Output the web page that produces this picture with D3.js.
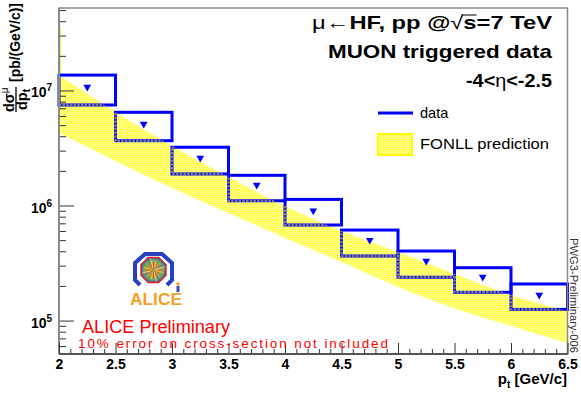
<!DOCTYPE html>
<html>
<head>
<meta charset="utf-8">
<script src="https://cdn.jsdelivr.net/npm/d3@7"></script>
<style>
body { margin: 0; background: #fff; }
svg { display: block; }
text { font-family: "Liberation Sans", Arial, Helvetica, sans-serif; }
</style>
</head>
<body>
<div id="chart"></div>
<script>
// bins of the measured spectrum
var binLo = [2, 2.5, 3, 3.5, 4, 4.5, 5, 5.5, 6];
var binHi = [2.5, 3, 3.5, 4, 4.5, 5, 5.5, 6, 6.5];
var dataVal = [1.07e7, 5.11e6, 2.59e6, 1.51e6, 9.0e5, 5.0e5, 3.29e5, 2.39e5, 1.67e5];
var systHi = [1.36e7, 6.46e6, 3.21e6, 1.83e6, 1.13e6, 6.12e5, 4.02e5, 2.88e5, 2.08e5];
var systLo = [7.48e6, 3.66e6, 1.88e6, 1.10e6, 6.77e5, 3.64e5, 2.38e5, 1.76e5, 1.25e5];

// FONLL band
var fonllPt = [2, 2.5, 3, 3.5, 4, 4.5, 5, 5.5, 6, 6.5];
var fonllHi = [1.36e7, 6.50e6, 3.29e6, 1.77e6, 9.90e5, 6.00e5, 3.94e5, 2.54e5, 1.67e5, 1.21e5];
var fonllLo = [4.27e6, 2.44e6, 1.42e6, 8.60e5, 5.22e5, 3.23e5, 1.96e5, 1.28e5, 8.96e4, 6.37e4];
var fonllEdgeTop = 3.56e7; // thin strip drawn on the axis at pt=2

// axis ticks
var xMajor = [2, 2.5, 3, 3.5, 4, 4.5, 5, 5.5, 6, 6.5];
var yMajor = [1e5, 1e6, 1e7];
var yExp = ["5", "6", "7"];

var width = 581, height = 395;

var x = d3.scaleLinear().domain([2, 6.5]).range([59, 567.5]);
var y = d3.scaleLog().domain([5.12e4, 5.21e7]).range([354, 8]);

var svg = d3.select("#chart").append("svg")
	.attr("width", width)
	.attr("height", height);

var defs = svg.append("defs");
var pat = defs.append("pattern")
	.attr("id", "dots")
	.attr("width", 2).attr("height", 2)
	.attr("patternUnits", "userSpaceOnUse");
pat.append("rect").attr("width", 2).attr("height", 2).attr("fill", "#ffff55");
pat.append("rect").attr("width", 1).attr("height", 1).attr("fill", "#ffffa8");

var fonll = fonllPt.map(function(p, i) { return {pt: p, lo: fonllLo[i], hi: fonllHi[i]}; });
var band = d3.area()
	.x(function(d) { return x(d.pt); })
	.y0(function(d) { return y(d.lo); })
	.y1(function(d) { return y(d.hi); })
	.curve(d3.curveMonotoneX);

defs.append("clipPath").attr("id", "bandclip")
	.append("path").attr("d", band(fonll));

// band
svg.append("path")
	.attr("d", band(fonll))
	.attr("fill", "url(#dots)");
svg.append("line")
	.attr("x1", x(2) + 1.2).attr("x2", x(2) + 1.2)
	.attr("y1", y(fonllEdgeTop)).attr("y2", y(fonllHi[0]))
	.attr("stroke", "#f0f040").attr("stroke-width", 1.5);

// data boxes
var bins = binLo.map(function(lo, i) {
	return {lo: lo, hi: binHi[i], v: dataVal[i], top: systHi[i], bot: systLo[i]};
});

svg.append("g").selectAll("rect")
	.data(bins)
	.enter()
	.append("rect")
	.attr("x", function(d) { return x(d.lo); })
	.attr("y", function(d) { return y(d.top); })
	.attr("width", function(d) { return x(d.hi) - x(d.lo); })
	.attr("height", function(d) { return y(d.bot) - y(d.top); })
	.attr("fill", "none")
	.attr("stroke", "#0000ff")
	.attr("stroke-width", 3);

// parts of the boxes seen through the band
svg.append("g").attr("clip-path", "url(#bandclip)").selectAll("rect")
	.data(bins)
	.enter()
	.append("rect")
	.attr("x", function(d) { return x(d.lo); })
	.attr("y", function(d) { return y(d.top); })
	.attr("width", function(d) { return x(d.hi) - x(d.lo); })
	.attr("height", function(d) { return y(d.bot) - y(d.top); })
	.attr("fill", "none")
	.attr("stroke", "#7c7c8c")
	.attr("stroke-width", 2.5)
	.attr("stroke-dasharray", "2.5,1.2");

// markers
var tri = d3.symbol().type(d3.symbolTriangle).size(26);
svg.append("g").selectAll("path")
	.data(bins)
	.enter()
	.append("path")
	.attr("d", tri)
	.attr("transform", function(d) {
		return "translate(" + x((d.lo + d.hi) / 2) + "," + y(d.v) + ") rotate(180)";
	})
	.attr("fill", "#0000ff");

// frame
svg.append("rect")
	.attr("x", 59).attr("y", 8)
	.attr("width", 567.5 - 59).attr("height", 354 - 8)
	.attr("fill", "none")
	.attr("stroke", "#8a8a8a")
	.attr("stroke-width", 1.5);

// y ticks (inside)
var yMinor = [];
[1e4, 1e5, 1e6, 1e7].forEach(function(dec) {
	for (var k = 2; k <= 9; k++) {
		var v = k * dec;
		if (v > y.domain()[0] && v < y.domain()[1]) yMinor.push(v);
	}
});

var yAxisMinor = d3.axisRight(y).tickValues(yMinor).tickSize(7).tickFormat("");
var yAxisMajor = d3.axisRight(y).tickValues(yMajor).tickSize(15).tickFormat("");
[yAxisMinor, yAxisMajor].forEach(function(ax) {
	var g = svg.append("g").attr("transform", "translate(59,0)").call(ax);
	g.select(".domain").remove();
	g.selectAll("line").attr("stroke", "#333");
});

svg.append("line")
	.attr("x1", 59).attr("x2", 59).attr("y1", 8).attr("y2", 354)
	.attr("stroke", "#8a8a8a").attr("stroke-width", 2);

// x ticks (inside)
var xMinor = d3.range(20, 66).map(function(i) { return i / 10; })
	.filter(function(v) { return Math.round(v * 10) % 5 != 0; });
var xAxisMinor = d3.axisTop(x).tickValues(xMinor).tickSize(5).tickFormat("");
var xAxisMajor = d3.axisTop(x).tickValues(xMajor).tickSize(11).tickFormat("");
[xAxisMinor, xAxisMajor].forEach(function(ax) {
	var g = svg.append("g").attr("transform", "translate(0,354)").call(ax);
	g.select(".domain").remove();
	g.selectAll("line").attr("stroke", "#333");
});
svg.append("line")
	.attr("x1", 59).attr("x2", 567.5).attr("y1", 354).attr("y2", 354)
	.attr("stroke", "#555").attr("stroke-width", 2);

// x labels
var xl = svg.append("g").attr("transform", "translate(0,354)")
	.call(d3.axisBottom(x).tickValues(xMajor).tickSize(0).tickFormat(function(d) { return d; }));
xl.select(".domain").remove();
xl.selectAll("text")
	.attr("y", 14.5).attr("dy", 0)
	.attr("font-size", 14).attr("font-weight", "bold")
	.attr("font-family", "Liberation Sans, Arial, sans-serif")
	.attr("fill", "#000");

// y labels 10^n
var yl = svg.append("g").selectAll("text")
	.data(yMajor)
	.enter()
	.append("text")
	.attr("x", 31)
	.attr("y", function(d) { return y(d) + 7; })
	.attr("font-size", 14)
	.attr("font-weight", "bold");
yl.append("tspan").text("10");
yl.append("tspan")
	.attr("dy", -6).attr("font-size", 10)
	.text(function(d, i) { return yExp[i]; });

// x title
var xt = svg.append("text")
	.attr("x", 567).attr("y", 384)
	.attr("text-anchor", "end")
	.attr("font-size", 15).attr("font-weight", "bold");
xt.append("tspan").text("p");
xt.append("tspan").attr("dy", 4).attr("font-size", 10).text("t");
xt.append("tspan").attr("dy", -4).text(" [GeV/c]");

// y title
var yt = svg.append("g").attr("transform", "translate(16,112) rotate(-90)")
	.attr("font-weight", "bold");
var num = yt.append("text").attr("x", 0).attr("y", -2).attr("font-size", 14.5);
num.append("tspan").text("d\u03c3");
num.append("tspan").attr("dy", -6).attr("font-size", 10).attr("font-weight", "normal").text("\u03bc");
yt.append("line").attr("x1", 0).attr("x2", 25).attr("y1", 0).attr("y2", 0)
	.attr("stroke", "#000").attr("stroke-width", 1.3);
var den = yt.append("text").attr("x", 2).attr("y", 11).attr("font-size", 14.5);
den.append("tspan").text("dp");
den.append("tspan").attr("dy", 3).attr("font-size", 10).text("t");
yt.append("text").attr("x", 30).attr("y", 4).attr("font-size", 14)
	.attr("textLength", 79).attr("lengthAdjust", "spacingAndGlyphs")
	.text("[pb/(GeV/c)]");

// titles, top right
var t1 = svg.append("text").attr("x", 312).attr("y", 29)
	.attr("font-size", 19).attr("font-weight", "bold")
	.attr("textLength", 240).attr("lengthAdjust", "spacingAndGlyphs");
t1.append("tspan").attr("font-weight", "normal").text("\u03bc\u2190");
t1.append("tspan").text("HF, pp @");
t1.append("tspan").attr("font-weight", "normal").text("\u221a");
t1.append("tspan").text("s=7 TeV");

svg.append("text").attr("x", 328).attr("y", 58)
	.attr("font-size", 19).attr("font-weight", "bold")
	.attr("textLength", 224).attr("lengthAdjust", "spacingAndGlyphs")
	.text("MUON triggered data");

var t3 = svg.append("text").attr("x", 466).attr("y", 87)
	.attr("font-size", 19).attr("font-weight", "bold")
	.attr("textLength", 86).attr("lengthAdjust", "spacingAndGlyphs");
t3.append("tspan").text("-4<");
t3.append("tspan").attr("font-weight", "normal").text("\u03b7");
t3.append("tspan").text("<-2.5");

// overline of the square root
var ext = t1.node().getExtentOfChar(11);
var extR = t1.node().getExtentOfChar(10);
svg.append("line")
	.attr("x1", extR.x + extR.width - 1).attr("x2", ext.x + ext.width)
	.attr("y1", extR.y + 3).attr("y2", extR.y + 3)
	.attr("stroke", "#000").attr("stroke-width", 1);

// legend
svg.append("line").attr("x1", 378).attr("x2", 413).attr("y1", 113).attr("y2", 113)
	.attr("stroke", "#0000ff").attr("stroke-width", 3);
svg.append("text").attr("x", 420).attr("y", 118).attr("font-size", 14.5).text("data");
svg.append("rect").attr("x", 378).attr("y", 134).attr("width", 34).attr("height", 21)
	.attr("fill", "url(#dots)").attr("stroke", "#ffff00").attr("stroke-width", 2);
svg.append("text").attr("x", 420).attr("y", 149).attr("font-size", 14.5)
	.attr("textLength", 129).attr("lengthAdjust", "spacingAndGlyphs")
	.text("FONLL prediction");

// ALICE preliminary texts
svg.append("text").attr("x", 82).attr("y", 333).attr("font-size", 17.5).attr("fill", "#ff0000")
	.attr("textLength", 148).attr("lengthAdjust", "spacingAndGlyphs")
	.text("ALICE Preliminary");
svg.append("text").attr("x", 78).attr("y", 348).attr("font-size", 13.5).attr("fill", "#ff0000")
	.attr("textLength", 310).attr("lengthAdjust", "spacing")
	.text("10% error on cross-section not included");

// side label
svg.append("text")
	.attr("transform", "translate(570,238) rotate(90)")
	.attr("font-size", 11).attr("fill", "#333")
	.attr("textLength", 115).attr("lengthAdjust", "spacingAndGlyphs")
	.text("PWG3-Preliminary-006");

// ALICE logo
var logo = svg.append("g");
var grad = defs.append("radialGradient").attr("id", "burst");
grad.append("stop").attr("offset", "0%").attr("stop-color", "#fff060");
grad.append("stop").attr("offset", "40%").attr("stop-color", "#f0a040");
grad.append("stop").attr("offset", "75%").attr("stop-color", "#70b060");
grad.append("stop").attr("offset", "100%").attr("stop-color", "#4060c0");
var cx = 153.5, cy = 270, r = 13.5;
var oct = d3.range(8).map(function(k) {
	var a = (22.5 + 45 * k) * Math.PI / 180;
	return [cx + r * Math.cos(a), cy + r * Math.sin(a)];
});
logo.append("path")
	.attr("d", "M140,285 L135,280 L135,263 L145,254 L162,254 L172,263 L172,280 L167,285")
	.attr("fill", "none").attr("stroke", "#2a40c0").attr("stroke-width", 4)
	.attr("stroke-linejoin", "miter");
logo.append("path")
	.attr("d", "M" + oct.join("L") + "Z")
	.attr("fill", "url(#burst)").attr("stroke", "#e02020").attr("stroke-width", 1.5);
var rayCols = ["#e03020", "#f0c020", "#40a040", "#f07020", "#3050d0", "#f0e040"];
d3.range(24).forEach(function(k) {
	var a = k * 15 * Math.PI / 180;
	var rr = 8 + (k % 3) * 2;
	logo.append("line")
		.attr("x1", cx).attr("y1", cy)
		.attr("x2", cx + rr * Math.cos(a)).attr("y2", cy + rr * Math.sin(a))
		.attr("stroke", rayCols[k % rayCols.length]).attr("stroke-width", 0.8);
});
logo.append("circle").attr("cx", 178).attr("cy", 284).attr("r", 1.8).attr("fill", "#f0a030");
logo.append("rect").attr("x", 176.5).attr("y", 286).attr("width", 3).attr("height", 6).attr("fill", "#3050c0");
logo.append("text").attr("x", 130).attr("y", 305)
	.attr("font-size", 17).attr("font-weight", "bold").attr("fill", "#f5a028")
	.attr("textLength", 52).attr("lengthAdjust", "spacingAndGlyphs")
	.text("ALICE");
</script>
</body>
</html>
